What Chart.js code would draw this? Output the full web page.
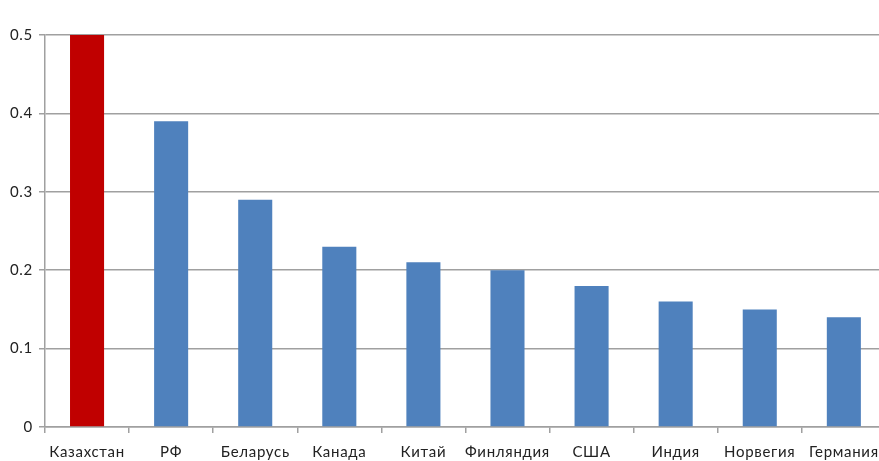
<!DOCTYPE html>
<html><head><meta charset="utf-8">
<script src="https://cdn.jsdelivr.net/npm/chart.js@4/dist/chart.umd.min.js"></script>
<style>html,body{margin:0;padding:0;background:#fff;overflow:hidden;width:879px;height:461px}#wrap{width:886px;height:461px}</style>
</head><body><div id="wrap"><canvas id="c" width="886" height="461"></canvas></div>
<script>
const categories = ["Казахстан","РФ","Беларусь","Канада","Китай","Финляндия","США","Индия","Норвегия","Германия"];
const values = [0.5,0.39,0.29,0.23,0.21,0.20,0.18,0.16,0.15,0.14];
const barColors = ["#C00000","#4F81BD","#4F81BD","#4F81BD","#4F81BD","#4F81BD","#4F81BD","#4F81BD","#4F81BD","#4F81BD"];
const yTicks = [0,0.1,0.2,0.3,0.4,0.5];
const FONT = "Lato, 'Open Sans', sans-serif";
const spacing = { id: 'spacing', beforeDraw: (c) => { c.ctx.letterSpacing = '0.7px'; } };
new Chart(document.getElementById('c'), {
  type: 'bar',
  data: { labels: categories, datasets: [{ data: values, backgroundColor: barColors, barPercentage: 0.405, categoryPercentage: 1 }] },
  plugins: [spacing],
  options: {
    responsive: false, animation: false,
    layout: { padding: { top: 35, left: 0, right: 0, bottom: 0 } },
    plugins: { legend: { display: false }, tooltip: { enabled: false } },
    scales: {
      x: {
        grid: { offset: true, drawOnChartArea: false, drawTicks: true, tickLength: 6, color: '#a0a0a0', lineWidth: 1.5 },
        border: { color: '#a0a0a0', width: 1.5 },
        ticks: { color: '#222', font: { family: FONT, size: 15 }, padding: 10, maxRotation: 0, autoSkip: false },
        afterFit: (s) => { s.height = 34; }
      },
      y: {
        min: 0, max: 0.5,
        afterBuildTicks: (s) => { s.ticks = yTicks.map(v => ({ value: v })); },
        grid: { color: '#a0a0a0', lineWidth: 1.5, tickLength: 6 },
        border: { color: '#a0a0a0', width: 1.5 },
        ticks: { color: '#222', font: { family: FONT, size: 15 }, padding: 6, callback: (v) => String(v) },
        afterFit: (s) => { s.width = 45; }
      }
    }
  }
});
</script></body></html>
